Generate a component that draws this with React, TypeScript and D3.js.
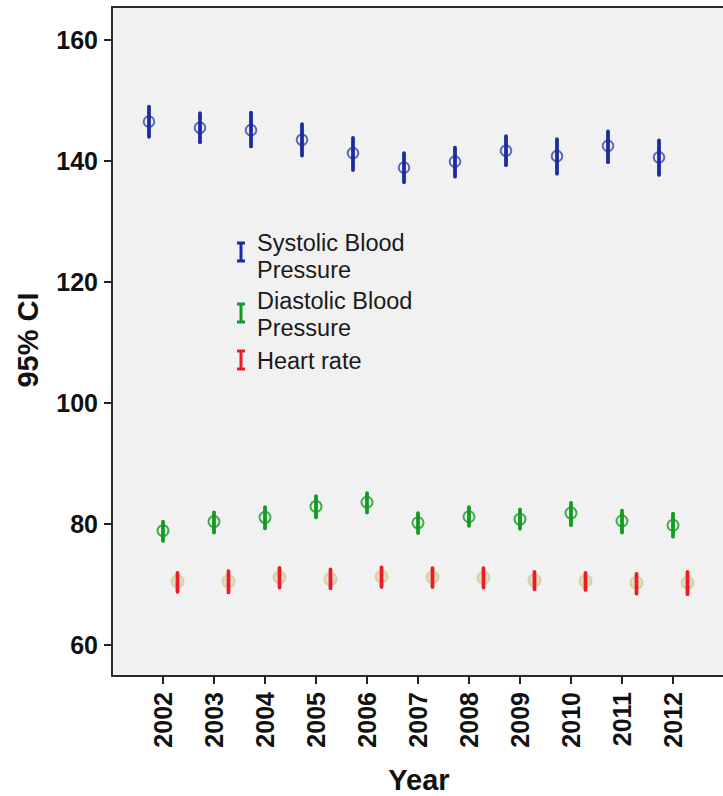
import React from "react";
import * as d3 from "d3";

// Survey years on the x axis
const years = ["2002", "2003", "2004", "2005", "2006", "2007", "2008", "2009", "2010", "2011", "2012"];

// Systolic blood pressure: mean with 95% CI bounds
const sbpMean = [146.5, 145.5, 145.1, 143.5, 141.3, 138.9, 139.9, 141.7, 140.8, 142.5, 140.6];
const sbpLow = [144.0, 143.1, 142.4, 140.9, 138.5, 136.5, 137.4, 139.3, 137.9, 139.8, 137.7];
const sbpHigh = [149.0, 147.9, 148.0, 146.1, 143.8, 141.3, 142.2, 144.1, 143.6, 144.9, 143.4];

// Diastolic blood pressure
const dbpMean = [78.9, 80.4, 81.1, 82.9, 83.6, 80.2, 81.2, 80.8, 81.8, 80.5, 79.8];
const dbpLow = [77.2, 78.6, 79.3, 81.1, 81.9, 78.5, 79.7, 79.2, 79.8, 78.6, 77.9];
const dbpHigh = [80.4, 81.9, 82.8, 84.6, 85.1, 81.8, 82.8, 82.4, 83.5, 82.2, 81.7];

// Heart rate
const hrMean = [70.5, 70.5, 71.2, 70.9, 71.3, 71.2, 71.1, 70.7, 70.6, 70.3, 70.3];
const hrLow = [68.8, 68.7, 69.5, 69.4, 69.6, 69.6, 69.5, 69.2, 69.1, 68.5, 68.4];
const hrHigh = [71.9, 72.2, 72.8, 72.5, 72.9, 72.7, 72.7, 72.1, 71.9, 71.9, 72.1];

const yTicks = [60, 80, 100, 120, 140, 160];
const legendLabels = [["Systolic Blood", "Pressure"], ["Diastolic Blood", "Pressure"], ["Heart rate"]];

const W = 723;
const H = 796;
const plot = { left: 112, top: 7, right: 724, bottom: 676 };
const font = "'Liberation Sans', Arial, sans-serif";

type Series = {
  mean: number[];
  low: number[];
  high: number[];
  dx: number;
  bar: string;
  ring: string;
  fill: string;
  r: number;
  dash?: string;
};

const series: Series[] = [
  { mean: sbpMean, low: sbpLow, high: sbpHigh, dx: -14, bar: "#1c2c9e", ring: "#5868c2", fill: "none", r: 5.3 },
  { mean: dbpMean, low: dbpLow, high: dbpHigh, dx: 0, bar: "#149a22", ring: "#3cae48", fill: "none", r: 5.5 },
  { mean: hrMean, low: hrLow, high: hrHigh, dx: 14.5, bar: "#ec1c24", ring: "#d6cfa8", fill: "#ddd6b4", r: 6, dash: "4 1.2" },
];

export default function App() {
  const x = d3.scalePoint<string>().domain(years).range([plot.left, plot.right]).padding(1);
  const y = d3.scaleLinear().domain([54.88, 165.45]).range([plot.bottom, plot.top]);

  const legendY = [252, 313, 360];
  const legendTextY = [[251, 277.5], [309, 335.5], [369]];

  return (
    <svg
      width={W}
      height={H}
      style={{ position: "absolute", left: 0, top: 0, background: "#fff" }}
      fontFamily={font}
    >
      <rect
        x={plot.left}
        y={plot.top}
        width={plot.right - plot.left}
        height={plot.bottom - plot.top}
        fill="#f1f1f1"
        stroke="#2a2a2a"
        strokeWidth={2}
      />

      {/* y axis ticks */}
      {yTicks.map((t) => (
        <g key={t}>
          <line x1={plot.left - 8} x2={plot.left} y1={y(t)} y2={y(t)} stroke="#222" strokeWidth={2} />
          <text x={plot.left - 14} y={y(t) + 9} textAnchor="end" fontSize={25} fontWeight="bold" fill="#111">
            {t}
          </text>
        </g>
      ))}

      {/* x axis ticks */}
      {years.map((yr) => (
        <g key={yr}>
          <line x1={x(yr)} x2={x(yr)} y1={plot.bottom} y2={plot.bottom + 8} stroke="#222" strokeWidth={2} />
          <text
            transform={`translate(${(x(yr) as number) + 9},${plot.bottom + 16}) rotate(-90)`}
            textAnchor="end"
            fontSize={25}
            fontWeight="bold"
            fill="#111"
          >
            {yr}
          </text>
        </g>
      ))}

      <text
        transform={`translate(38,340) rotate(-90)`}
        textAnchor="middle"
        fontSize={29}
        fontWeight="bold"
        fill="#111"
      >
        95% CI
      </text>
      <text x={419} y={790} textAnchor="middle" fontSize={29} fontWeight="bold" fill="#111">
        Year
      </text>

      {/* error bars */}
      {series.map((s, si) => (
        <g key={si}>
          {years.map((yr, i) => {
            const cx = (x(yr) as number) + s.dx;
            return (
              <g key={yr}>
                <circle cx={cx} cy={y(s.mean[i])} r={s.r} fill={s.fill} fillOpacity={0.75} stroke={s.ring} strokeWidth={2} />
                <line
                  x1={cx}
                  x2={cx}
                  y1={y(s.low[i])}
                  y2={y(s.high[i])}
                  stroke={s.bar}
                  strokeWidth={3.8}
                  strokeLinecap="round"
                  strokeDasharray={s.dash}
                />
              </g>
            );
          })}
        </g>
      ))}

      {/* legend */}
      {series.map((s, si) => (
        <g key={si}>
          <g stroke={s.bar} strokeWidth={3}>
            <line x1={241} x2={241} y1={legendY[si] - 9} y2={legendY[si] + 9} />
            <line x1={237} x2={245} y1={legendY[si] - 9} y2={legendY[si] - 9} />
            <line x1={237} x2={245} y1={legendY[si] + 9} y2={legendY[si] + 9} />
          </g>
          {legendLabels[si].map((txt, li) => (
            <text key={li} x={257} y={legendTextY[si][li]} fontSize={23.5} fill="#1a1a1a">
              {txt}
            </text>
          ))}
        </g>
      ))}
    </svg>
  );
}
